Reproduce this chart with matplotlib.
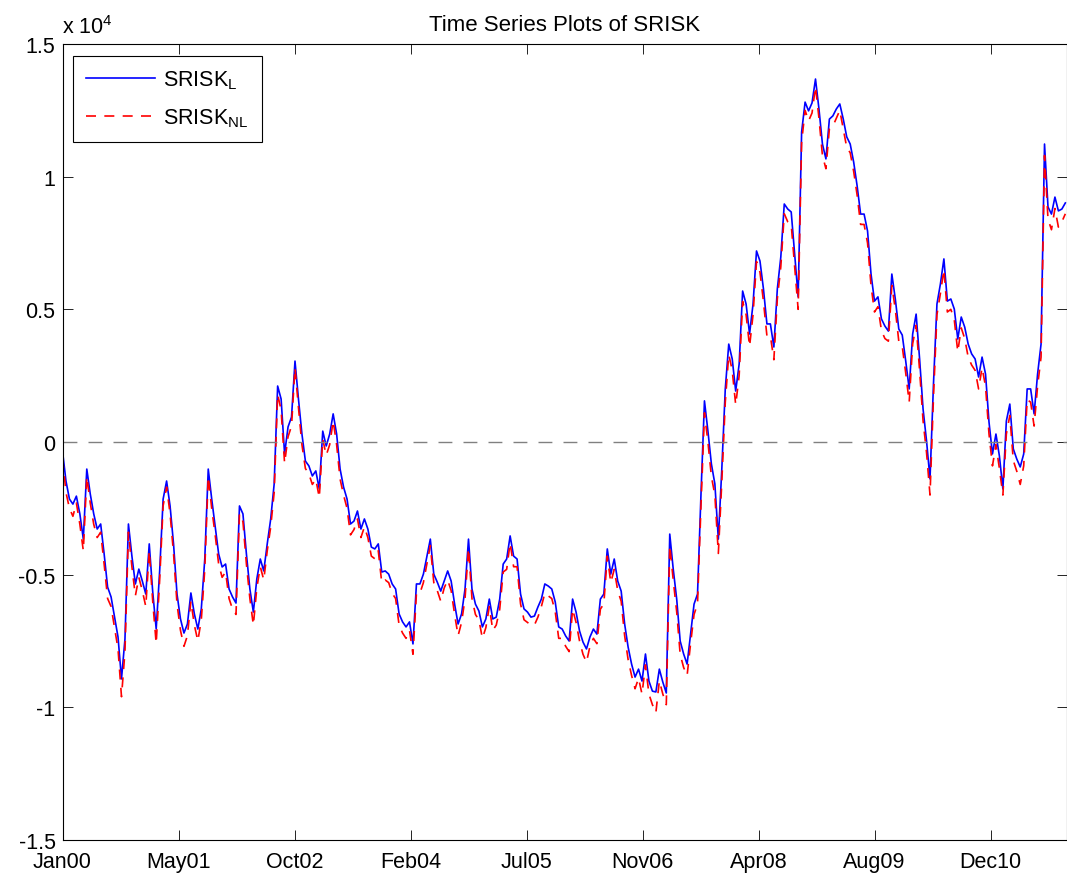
import numpy as np
import pandas as pd
import matplotlib
matplotlib.use('Agg')
import matplotlib.pyplot as plt

plt.rcParams['font.family'] = ['Liberation Sans', 'DejaVu Sans']
plt.rcParams['mathtext.fontset'] = 'custom'
plt.rcParams['mathtext.rm'] = 'Liberation Sans'

# sample dates (every 15 days from the first trading day)
start_date = '2000-01-03'
n_points = 290

# SRISK linear
srisk_l = [
    -340, -1470, -2150, -2340, -2040, -2710, -3660, -1020, -1960, -2710,
    -3280, -3090, -4220, -5470, -5840, -6600, -7350, -8930, -7430, -3090,
    -4300, -5350, -4790, -5240, -5730, -3840, -5650, -7050, -4860, -2150,
    -1470, -2410, -3840, -5730, -6670, -7200, -6860, -5690, -6480, -7050,
    -6290, -4410, -1020, -2150, -3170, -4220, -4710, -4600, -5540, -5840,
    -6070, -2410, -2710, -4220, -5540, -6410, -5160, -4410, -4860, -3840,
    -2900, -1580, 2110, 1620, -450, 570, 940, 3050, 1620, 300,
    -720, -900, -1280, -1090, -1770, 410, -150, 300, 1060, 300,
    -1020, -1700, -2150, -3090, -2980, -2600, -3280, -2900, -3280, -3960,
    -4030, -3840, -4900, -4860, -4980, -5350, -5540, -6480, -6780, -6970,
    -6780, -7610, -5350, -5350, -4980, -4330, -3660, -4980, -5280, -5620,
    -5240, -4860, -5240, -6110, -6860, -6480, -5540, -3660, -5540, -6110,
    -6370, -6970, -6670, -5920, -6670, -6600, -5920, -4600, -4410, -3540,
    -4300, -4410, -5730, -6290, -6410, -6600, -6560, -6220, -5920, -5350,
    -5430, -5540, -6030, -6970, -7050, -7310, -7500, -5920, -6410, -7120,
    -7540, -7800, -7350, -7050, -7240, -5920, -5730, -4030, -4980, -4410,
    -5240, -5620, -6860, -7730, -8370, -8860, -8560, -9010, -7990, -9010,
    -9390, -9420, -8560, -9050, -9460, -3470, -4790, -5920, -7500, -7990,
    -8370, -7240, -6110, -5730, -1960, 1550, 410, -830, -1580, -3660,
    -1020, 2000, 3690, 3130, 1920, 2940, 5690, 5200, 4070, 5200,
    7200, 6820, 5770, 4450, 4450, 3580, 5770, 6970, 8970, 8780,
    8670, 7090, 5470, 11680, 12810, 12480, 12780, 13680, 12550, 11230,
    10670, 12170, 12290, 12550, 12740, 12170, 11500, 11230, 10550, 9650,
    8590, 8590, 7950, 6330, 5310, 5470, 4640, 4370, 4180, 6330,
    5390, 4260, 4030, 3050, 2000, 4070, 4820, 3130, 1240, 40,
    -1390, 2190, 5200, 5960, 6900, 5310, 5390, 5010, 3880, 4710,
    4330, 3690, 3320, 3130, 2450, 3200, 2560, 750, -450, 300,
    -530, -1770, 790, 1430, -260, -640, -940, -450, 2000, 2000,
    1060, 2560, 3690, 11230, 8860, 8590, 9230, 8710, 8780, 9010,
]

# SRISK non-linear
srisk_nl = [
    -600, -1900, -2500, -2800, -2300, -3100, -4100, -1300, -2300, -3100,
    -3600, -3400, -4600, -5900, -6200, -7000, -7800, -9600, -7900, -3400,
    -4700, -5800, -5100, -5600, -6200, -4100, -6000, -7600, -5200, -2400,
    -1700, -2700, -4200, -6100, -7100, -7700, -7300, -6000, -6900, -7500,
    -6700, -4800, -1300, -2500, -3500, -4600, -5100, -4900, -5900, -6300,
    -6500, -2700, -3000, -4600, -5900, -6900, -5500, -4700, -5200, -4100,
    -3200, -1900, 1800, 1200, -800, 200, 600, 2800, 1300, -100,
    -1000, -1200, -1600, -1400, -2100, 100, -500, -100, 800, -100,
    -1400, -2000, -2500, -3500, -3300, -2900, -3600, -3200, -3600, -4300,
    -4400, -4100, -5300, -5200, -5300, -5700, -5900, -6900, -7200, -7400,
    -7100, -8000, -5700, -5700, -5300, -4600, -3900, -5300, -5600, -6000,
    -5500, -5200, -5600, -6500, -7300, -6800, -5900, -4000, -5900, -6500,
    -6700, -7400, -7000, -6200, -7100, -6900, -6300, -4900, -4800, -3800,
    -4700, -4700, -6100, -6700, -6800, -6900, -6900, -6600, -6200, -5700,
    -5800, -5900, -6400, -7400, -7400, -7700, -7900, -6300, -6800, -7500,
    -8000, -8300, -7700, -7400, -7600, -6300, -6100, -4300, -5300, -4800,
    -5600, -6000, -7300, -8200, -8800, -9300, -8900, -9500, -8400, -9500,
    -9900, -10200, -9000, -9500, -9900, -3900, -5200, -6400, -8000, -8500,
    -8800, -7600, -6500, -6100, -2400, 1100, 0, -1300, -2000, -4200,
    -1500, 1500, 3300, 2700, 1400, 2500, 5300, 4800, 3600, 4800,
    6800, 6400, 5300, 4000, 4000, 3100, 5400, 6600, 8600, 8300,
    8200, 6600, 5000, 11300, 12500, 12100, 12400, 13400, 12200, 10800,
    10300, 11800, 11900, 12200, 12500, 11800, 11100, 10900, 10200, 9300,
    8200, 8200, 7500, 5900, 4900, 5100, 4200, 3900, 3800, 5900,
    5000, 3800, 3600, 2600, 1500, 3700, 4400, 2700, 800, -400,
    -2000, 1700, 4800, 5600, 6500, 4900, 5000, 4600, 3400, 4300,
    3900, 3200, 2900, 2700, 2000, 2800, 2100, 300, -900, -100,
    -1000, -2000, 300, 1000, -700, -1100, -1600, -900, 1600, 1500,
    600, 2100, 3200, 10800, 8400, 8000, 8800, 8100, 8300, 8600,
]

xtick_labels = ['Jan00', 'May01', 'Oct02', 'Feb04', 'Jul05',
                'Nov06', 'Apr08', 'Aug09', 'Dec10']
ytick_vals = [-1.5, -1, -0.5, 0, 0.5, 1, 1.5]
ytick_labels = ['-1.5', '-1', '-0.5', '0', '0.5', '1', '1.5']

dates = pd.date_range(start_date, periods=n_points, freq='15D')
t0 = pd.Timestamp(start_date)
tick_step = pd.Timedelta(days=501.5)
xticks = [t0 + k * tick_step for k in range(len(xtick_labels))]
x_end = t0 + pd.Timedelta(days=4340)

fig = plt.figure(figsize=(10.67, 8.79), dpi=100)
ax = fig.add_axes([62.5 / 1067, 38 / 879, 1004 / 1067, 796 / 879])

ax.plot(dates, srisk_l, color=(0, 0, 1), lw=1.2, label=r'SRISK$_\mathregular{L}$')
ax.plot(dates, srisk_nl, color=(1, 0, 0), lw=1.2, linestyle='--', dashes=(6, 5),
        label=r'SRISK$_\mathregular{NL}$')
ax.axhline(0, color=(0.5, 0.5, 0.5), lw=1.0, linestyle='--', dashes=(10, 8))

ax.set_xlim(t0, x_end)
ax.set_ylim(-15000, 15000)
ax.set_xticks(xticks)
ax.set_xticklabels(xtick_labels)
ax.set_yticks([v * 1e4 for v in ytick_vals])
ax.set_yticklabels(ytick_labels)

ax.tick_params(direction='in', length=7, width=0.6, labelsize=15.5,
               top=True, right=True)
ax.tick_params(axis='x', pad=8)
ax.tick_params(axis='y', pad=5)
for s in ax.spines.values():
    s.set_linewidth(0.8)

ax.set_title('Time Series Plots of SRISK', fontsize=16, pad=10)
ax.text(0, 1.008, r'x 10$^\mathregular{4}$', transform=ax.transAxes,
        fontsize=15.5, ha='left', va='bottom')

leg = ax.legend(loc='upper left', bbox_to_anchor=(0.0105, 0.985),
                borderaxespad=0, fontsize=15.5, fancybox=False, framealpha=1,
                edgecolor='black', handlelength=3.2, handletextpad=0.4,
                labelspacing=0.7, borderpad=0.6)
leg.get_frame().set_linewidth(0.8)

fig.savefig('out.png', dpi=100)
